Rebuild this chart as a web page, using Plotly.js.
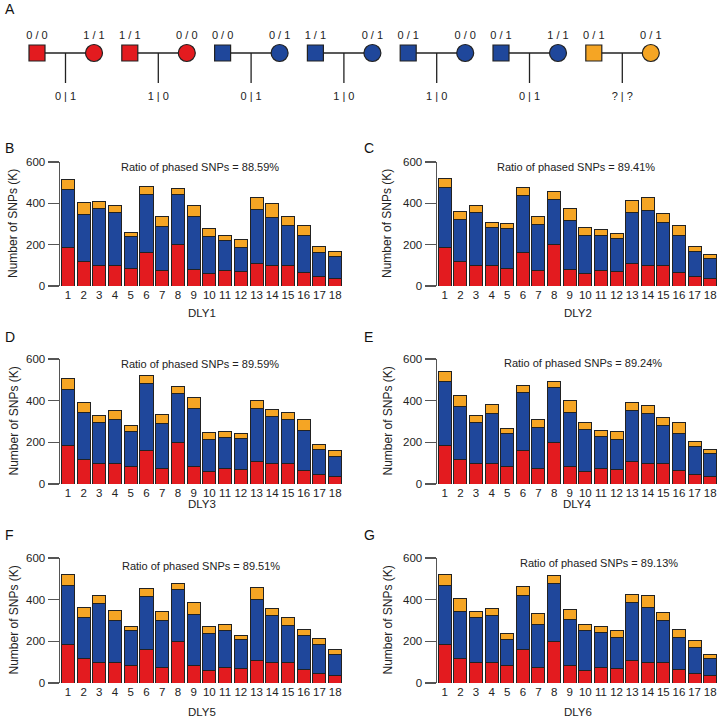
<!DOCTYPE html>
<html>
<head>
<meta charset="utf-8">
<script src="https://cdn.plot.ly/plotly-3.0.1.min.js"></script>
<style>
  html, body { margin: 0; padding: 0; background: #fff; }
  #fig { width: 720px; height: 718px; }
</style>
</head>
<body>
<div id="fig"></div>
<script>
// ---- panel A: trio genotypes ----
const fathers  = ['0 / 0', '1 / 1', '0 / 0', '1 / 1', '0 / 1', '0 / 1', '0 / 1'];
const mothers  = ['1 / 1', '0 / 0', '0 / 1', '0 / 1', '0 / 0', '1 / 1', '0 / 1'];
const children = ['0 | 1', '1 | 0', '0 | 1', '1 | 0', '1 | 0', '0 | 1', '? | ?'];
const trioKind = ['red', 'red', 'blue', 'blue', 'blue', 'blue', 'orange'];

// ---- panels B-G: SNPs per chromosome (K) ----
const chroms = ['1','2','3','4','5','6','7','8','9','10','11','12','13','14','15','16','17','18'];
const samples = ['DLY1', 'DLY2', 'DLY3', 'DLY4', 'DLY5', 'DLY6'];
const ratios = ['88.59%', '89.41%', '89.59%', '89.24%', '89.51%', '89.13%'];

// red part (bottom of each bar)
const redPart = [185, 117, 99, 97, 86, 163, 76, 199, 82, 62, 74, 68, 107, 98, 98, 67, 45, 36];

// top of the blue part (phased SNPs)
const phasedDLY1 = [466, 347, 376, 354, 238, 444, 290, 442, 338, 241, 220, 188, 370, 330, 291, 243, 164, 145];
const phasedDLY2 = [476, 322, 357, 282, 277, 436, 299, 420, 318, 246, 246, 230, 355, 364, 306, 246, 169, 132];
const phasedDLY3 = [456, 342, 297, 308, 252, 483, 289, 433, 364, 215, 223, 220, 362, 326, 310, 255, 167, 133];
const phasedDLY4 = [492, 370, 294, 338, 241, 438, 269, 462, 342, 260, 228, 212, 353, 337, 281, 241, 181, 146];
const phasedDLY5 = [468, 313, 383, 298, 250, 417, 302, 448, 330, 236, 250, 209, 399, 322, 274, 226, 186, 136];
const phasedDLY6 = [467, 343, 313, 322, 209, 420, 281, 476, 303, 250, 242, 220, 385, 363, 298, 220, 172, 117];

// total SNPs (top of orange part)
const totalDLY1 = [515, 402, 407, 391, 259, 483, 336, 473, 389, 278, 246, 224, 426, 397, 338, 293, 193, 167];
const totalDLY2 = [520, 362, 388, 309, 304, 475, 338, 455, 375, 285, 273, 256, 413, 426, 351, 291, 193, 154];
const totalDLY3 = [508, 391, 330, 351, 282, 520, 332, 467, 417, 249, 253, 241, 403, 359, 345, 308, 191, 159];
const totalDLY4 = [542, 425, 327, 383, 268, 473, 311, 494, 399, 297, 255, 250, 393, 379, 318, 294, 202, 167];
const totalDLY5 = [521, 362, 419, 346, 273, 454, 342, 478, 387, 273, 279, 229, 457, 356, 314, 258, 215, 160];
const totalDLY6 = [521, 404, 342, 359, 236, 462, 332, 515, 354, 279, 269, 250, 427, 419, 337, 255, 202, 135];

const phased = [phasedDLY1, phasedDLY2, phasedDLY3, phasedDLY4, phasedDLY5, phasedDLY6];
const totals = [totalDLY1, totalDLY2, totalDLY3, totalDLY4, totalDLY5, totalDLY6];

const colors = { red: '#e31b1f', blue: '#1f479b', orange: '#f5a524' };
const edge = '#222';
const font = 'Liberation Sans, Arial, sans-serif';

// page is laid out in pixels, converted to paper fractions
const W = 720, H = 718;
const fx = x => x / W;
const fy = y => 1 - y / H;

const data = [];
const annotations = [];
const layout = {
    width: W, height: H,
    margin: { l: 0, r: 0, t: 0, b: 0 },
    paper_bgcolor: '#fff', plot_bgcolor: 'rgba(0,0,0,0)',
    showlegend: false,
    barmode: 'stack',
    bargap: 0.17,
    font: { family: font, size: 11, color: '#222' },
    annotations
};

// ---- panel A ----
const sq0 = 37, step = 92.8, gap = 57, lineY = 53, dropY = 83;
const sqX = fathers.map((_, i) => sq0 + i * step);
const ciX = sqX.map(x => x + gap);
const midX = sqX.map(x => x + gap / 2);

data.push({
    x: sqX.flatMap((x, i) => [x, ciX[i], null]).concat(midX.flatMap(x => [x, x, null])),
    y: sqX.flatMap(() => [lineY, lineY, null]).concat(midX.flatMap(() => [lineY, dropY, null])),
    mode: 'lines', line: { color: '#222', width: 1.3 },
    xaxis: 'x7', yaxis: 'y7', hoverinfo: 'skip'
});
data.push({
    x: sqX, y: sqX.map(() => lineY), mode: 'markers+text',
    text: fathers, textposition: 'top center', textfont: { size: 11, color: '#222' },
    marker: { symbol: 'square', size: 16, color: trioKind.map(k => colors[k]), line: { color: edge, width: 1.2 } },
    xaxis: 'x7', yaxis: 'y7'
});
data.push({
    x: ciX, y: ciX.map(() => lineY), mode: 'markers+text',
    text: mothers, textposition: 'top center', textfont: { size: 11, color: '#222' },
    marker: { symbol: 'circle', size: 17, color: trioKind.map(k => colors[k]), line: { color: edge, width: 1.2 } },
    xaxis: 'x7', yaxis: 'y7'
});
data.push({
    x: midX, y: midX.map(() => 97), mode: 'text',
    text: children, textfont: { size: 11, color: '#222' },
    xaxis: 'x7', yaxis: 'y7'
});
layout.xaxis7 = { domain: [0, 1], range: [0, W], visible: false, fixedrange: true };
layout.yaxis7 = { domain: [fy(120), 1], range: [120, 0], visible: false, fixedrange: true };

// ---- panels B-G ----
const letters = ['B', 'C', 'D', 'E', 'F', 'G'];
const colPx = [[60, 343], [437, 718]];
const rowZero = [286, 484, 683];
const rowTop = [162, 359, 558];
const ratioX = [200, 576, 200, 583, 201, 599];
const ratioY = [167, 167, 364, 363, 566, 563];
const letterY = [148, 337, 535];
const titleX = [13, 387];
const xTitleY = [313, 504, 712];

samples.forEach((name, k) => {
    const col = k % 2, row = Math.floor(k / 2);
    const n = k + 1;
    const xa = 'x' + n, ya = 'y' + n;
    const blue = phased[k].map((v, i) => v - redPart[i]);
    const orange = totals[k].map((v, i) => v - phased[k][i]);

    [[redPart, colors.red], [blue, colors.blue], [orange, colors.orange]].forEach(([vals, c]) => {
        data.push({
            type: 'bar', x: chroms, y: vals, xaxis: xa, yaxis: ya,
            marker: { color: c, line: { color: edge, width: 1 } },
            hoverinfo: 'y'
        });
    });

    layout['xaxis' + n] = {
        domain: [fx(colPx[col][0]), fx(colPx[col][1])],
        anchor: ya, type: 'category', range: [-0.5, 17.5],
        showline: false, showgrid: false, zeroline: false, ticks: '',
        tickfont: { size: 11.5, color: '#222' }, fixedrange: true
    };
    layout['yaxis' + n] = {
        domain: [fy(rowZero[row]), fy(rowTop[row])],
        anchor: xa, range: [0, 600], tickvals: [0, 200, 400, 600],
        showline: true, linecolor: '#555', linewidth: 1.5,
        ticks: 'outside', ticklen: 11, tickwidth: 1.5, tickcolor: '#555',
        showgrid: false, zeroline: false,
        tickfont: { size: 11.5, color: '#222' }, fixedrange: true
    };

    const cx = (colPx[col][0] + colPx[col][1]) / 2;
    annotations.push(
        { text: letters[k], x: fx(col ? 362 : 3), y: fy(letterY[row]), xref: 'paper', yref: 'paper',
          xanchor: 'left', yanchor: 'middle', showarrow: false, font: { size: 14, color: '#111' } },
        { text: 'Ratio of phased SNPs = ' + ratios[k], x: fx(ratioX[k]), y: fy(ratioY[k]), xref: 'paper', yref: 'paper',
          xanchor: 'center', yanchor: 'middle', showarrow: false, font: { size: 11, color: '#222' } },
        { text: 'Number of SNPs (K)', textangle: -90, x: fx(titleX[col]), y: fy((rowZero[row] + rowTop[row]) / 2),
          xref: 'paper', yref: 'paper', xanchor: 'center', yanchor: 'middle', showarrow: false,
          font: { size: 12, color: '#222' } },
        { text: name, x: fx(cx), y: fy(xTitleY[row]), xref: 'paper', yref: 'paper',
          xanchor: 'center', yanchor: 'middle', showarrow: false, font: { size: 11.5, color: '#222' } }
    );
});

annotations.push({ text: 'A', x: fx(3), y: fy(9), xref: 'paper', yref: 'paper', xanchor: 'left', yanchor: 'middle',
                   showarrow: false, font: { size: 14, color: '#111' } });

Plotly.newPlot('fig', data, layout, { displayModeBar: false, staticPlot: true });
</script>
</body>
</html>
